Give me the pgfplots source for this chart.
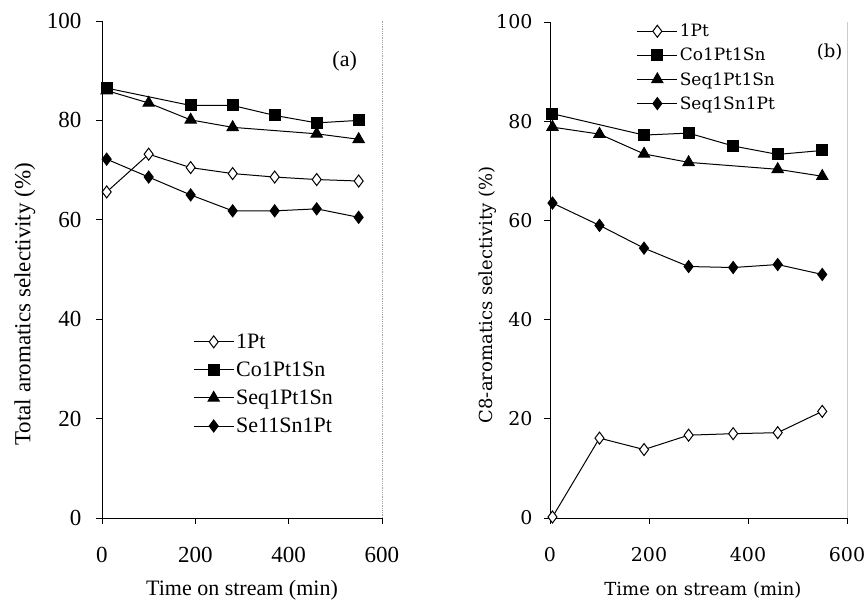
\documentclass[border=0pt]{standalone}
\usepackage{fontspec}
\setmainfont{Liberation Serif}
\newfontfamily\rfont{DejaVu Serif}
\usepackage{pgfplots}
\pgfplotsset{compat=1.18}
\begin{document}
\begin{tikzpicture}[x=1pt,y=1pt]
\useasboundingbox (0,0) rectangle (864,604);
\pgfplotsset{
  panel/.style={scale only axis, xmin=0, xmax=600, ymin=0, ymax=100,
    xtick={0,200,400,600}, ytick={0,20,...,100},
    axis x line*=bottom, axis y line*=left, tick align=outside,
    major tick length=6pt, /pgf/number format/assume math mode=true,
    axis line style={black, line width=0.9pt}, tick style={black, line width=0.8pt},
    clip=false, legend cell align=left,
    legend style={draw=none, fill=none, inner sep=0pt},
    legend image code/.code={\draw[mark repeat=2,mark phase=2,##1] plot coordinates {(0pt,0pt) (20pt,0pt) (40pt,0pt)};},
  },
  s1/.style={black, line width=1pt, mark=diamond*, mark size=6pt, mark options={fill=white, line width=1pt}},
  s2/.style={black, line width=1pt, mark=square*, mark size=5.5pt, mark options={fill=black}},
  s3/.style={black, line width=1pt, mark=triangle*, mark size=6.5pt, mark options={fill=black}},
  s4/.style={black, line width=1pt, mark=diamond*, mark size=6pt, mark options={fill=black}},
}
% ---------- (a) ----------
\begin{axis}[panel, at={(102pt,86pt)}, anchor=south west, width=280pt, height=497pt,
  tick label style={font=\fontsize{23}{26}\selectfont},
  xticklabel style={yshift=-20pt}, yticklabel style={xshift=-11pt},
  xlabel={Time on stream (min)}, ylabel={Total aromatics selectivity (\%)},
  every axis x label/.style={at={(axis description cs:0.5,-0.146)}, anchor=center, font=\fontsize{22}{26}\selectfont},
  every axis y label/.style={at={(axis description cs:-0.275,0.43)}, rotate=90, anchor=center, font=\fontsize{23}{26}\selectfont},
  legend style={at={(axis cs:195,37.5)}, anchor=north west, font=\fontsize{22}{26}\selectfont, row sep=8pt},
]
\addplot[s1] coordinates {(10,65.6) (100,73.2) (190,70.5) (280,69.3) (370,68.6) (460,68.1) (550,67.8)};
\addlegendentry{1Pt}
\addplot[s2] coordinates {(10,86.5) (190,83.0) (280,83.0) (370,81.0) (460,79.5) (550,80.0)};
\addlegendentry{Co1Pt1Sn}
\addplot[s3] coordinates {(10,86.0) (100,83.5) (190,80.1) (280,78.6) (460,77.3) (550,76.2)};
\addlegendentry{Seq1Pt1Sn}
\addplot[s4] coordinates {(10,72.2) (100,68.6) (190,65.0) (280,61.8) (370,61.8) (460,62.2) (550,60.5)};
\addlegendentry{Se11Sn1Pt}
\node[font=\fontsize{22}{26}\selectfont] at (axis cs:520,92) {(a)};
\draw[gray!70, densely dotted, line width=0.8pt] (axis cs:600,0) -- (axis cs:600,100);
\end{axis}
% ---------- (b) ----------
\begin{axis}[panel, at={(550pt,86pt)}, anchor=south west, width=297pt, height=496pt,
  tick label style={font=\rfont\fontsize{19}{22}\selectfont},
  xticklabel style={yshift=-20pt}, yticklabel style={xshift=-8pt},
  xlabel={Time on stream (min)}, ylabel={C8-aromatics selectivity (\%)},
  every axis x label/.style={at={(axis description cs:0.515,-0.146)}, anchor=center, font=\rfont\fontsize{18}{22}\selectfont},
  every axis y label/.style={at={(axis description cs:-0.21,0.45)}, rotate=90, anchor=center, font=\rfont\fontsize{18}{22}\selectfont},
  legend style={at={(axis cs:175,100)}, anchor=north west, font=\rfont\fontsize{17}{20}\selectfont, row sep=6pt},
]
\addplot[s1] coordinates {(5,0.2) (100,16.1) (190,13.8) (280,16.7) (370,17.0) (460,17.2) (550,21.5)};
\addlegendentry{1Pt}
\addplot[s2] coordinates {(5,81.5) (190,77.2) (280,77.6) (370,75.0) (460,73.3) (550,74.1)};
\addlegendentry{Co1Pt1Sn}
\addplot[s3] coordinates {(5,78.8) (100,77.4) (190,73.4) (280,71.7) (460,70.3) (550,68.9)};
\addlegendentry{Seq1Pt1Sn}
\addplot[s4] coordinates {(5,63.5) (100,59.0) (190,54.4) (280,50.7) (370,50.5) (460,51.1) (550,49.1)};
\addlegendentry{Seq1Sn1Pt}
\node[font=\rfont\fontsize{18}{22}\selectfont] at (axis cs:565,94) {(b)};
\draw[gray!40, line width=0.8pt] (axis cs:600,0) -- (axis cs:600,100);
\end{axis}
\end{tikzpicture}
\end{document}
